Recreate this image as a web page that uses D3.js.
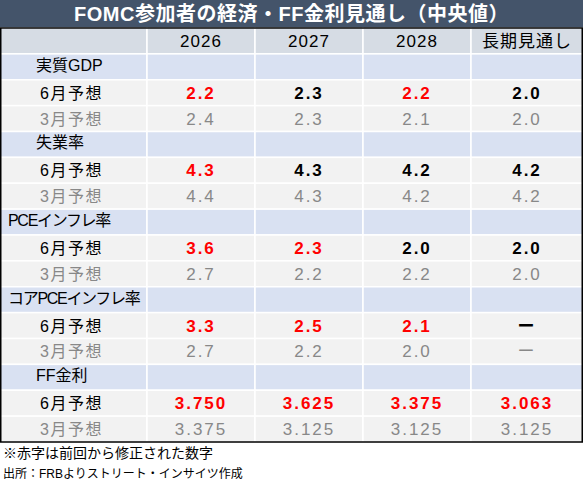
<!DOCTYPE html><html><head><meta charset="utf-8"><script src="https://cdn.jsdelivr.net/npm/d3@7"></script>
<style>body{margin:0;background:#fff}</style></head><body><script>
const title="FOMC参加者の経済・FF金利見通し（中央値）";
const years=["2026","2027","2028","長期見通し"];
const categories=["実質GDP","失業率","PCEインフレ率","コアPCEインフレ率","FF金利"];
const june=[["2.2","2.3","2.2","2.0"],["4.3","4.3","4.2","4.2"],["3.6","2.3","2.0","2.0"],["3.3","2.5","2.1","ー"],["3.750","3.625","3.375","3.063"]];
const march=[["2.4","2.3","2.1","2.0"],["4.4","4.3","4.2","4.2"],["2.7","2.2","2.2","2.0"],["2.7","2.2","2.0","ー"],["3.375","3.125","3.125","3.125"]];
const revised=[[1,0,1,0],[1,0,0,0],[1,1,0,0],[1,1,1,0],[1,1,1,1]];
const notes=["※赤字は前回から修正された数字","出所：FRBよりストリート・インサイツ作成"];
const W=583,H=486,f="'Liberation Sans','Noto Sans CJK JP',sans-serif";
const svg=d3.select("body").append("svg").attr("width",W).attr("height",H).style("font-family",f);
svg.append("rect").attr("width",W).attr("height",28).attr("fill","#44546a");
svg.append("text").attr("x",W/2).attr("y",21).attr("text-anchor","middle").attr("fill","#fff").attr("font-size",20).attr("font-weight","bold").attr("letter-spacing",0.5).text(title);
const x=d3.scaleOrdinal().domain(["label",...years]).range([0,147,255,363,471]);
const widths=[147,108,108,108,112];
const nRows=1+categories.length*3;
const y=d3.scaleLinear().domain([0,nRows]).range([28,442]);
const rh=y(1)-y(0);
const rows=[{type:"h"}];
categories.forEach((c,i)=>{rows.push({type:"c",c});rows.push({type:"j",i});rows.push({type:"m",i});});
rows.forEach((r,ri)=>{
  const fill=r.type=="h"?"#d6dce4":r.type=="c"?"#d9e1f2":"#f2f2f2";
  ["label",...years].forEach((k,ci)=>{
    svg.append("rect").attr("x",x(k)).attr("y",y(ri)).attr("width",widths[ci]).attr("height",rh).attr("fill",fill).attr("stroke","#fff").attr("stroke-width",1.5);
  });
  const ty=y(ri)+rh/2+6;
  if(r.type=="h") years.forEach((yr,ci)=>svg.append("text").attr("x",x(yr)+widths[ci+1]/2).attr("y",ty).attr("text-anchor","middle").attr("font-size",17).attr("letter-spacing",1).text(yr));
  if(r.type=="c") svg.append("text").attr("x",r.c.length>6?8:36).attr("y",ty-2).attr("font-size",16).attr("letter-spacing",r.c.length>6?-1.3:0).text(r.c);
  if(r.type=="j"||r.type=="m"){
    const lab=r.type=="j"?"6月予想":"3月予想", col=r.type=="j"?"#000":"#888";
    svg.append("text").attr("x",40).attr("y",ty).attr("font-size",16).attr("letter-spacing",1.5).attr("fill",col).text(lab);
    const vals=r.type=="j"?june[r.i]:march[r.i];
    vals.forEach((v,ci)=>{
      svg.append("text").attr("x",x(years[ci])+widths[ci+1]/2).attr("y",ty).attr("text-anchor","middle").attr("font-size",17)
        .attr("letter-spacing",2).attr("font-weight",r.type=="j"?"bold":"normal")
        .attr("fill",r.type=="j"?(revised[r.i][ci]?"#ff0000":"#000"):"#888").text(v);
    });
  }
});
svg.append("rect").attr("x",0.75).attr("y",28).attr("width",W-1.5).attr("height",442-28).attr("fill","none").attr("stroke","#000").attr("stroke-width",1.5);
svg.append("text").attr("x",3).attr("y",458).attr("font-size",14).text(notes[0]);
svg.append("text").attr("x",3).attr("y",478).attr("font-size",12).text(notes[1]);
</script></body></html>
